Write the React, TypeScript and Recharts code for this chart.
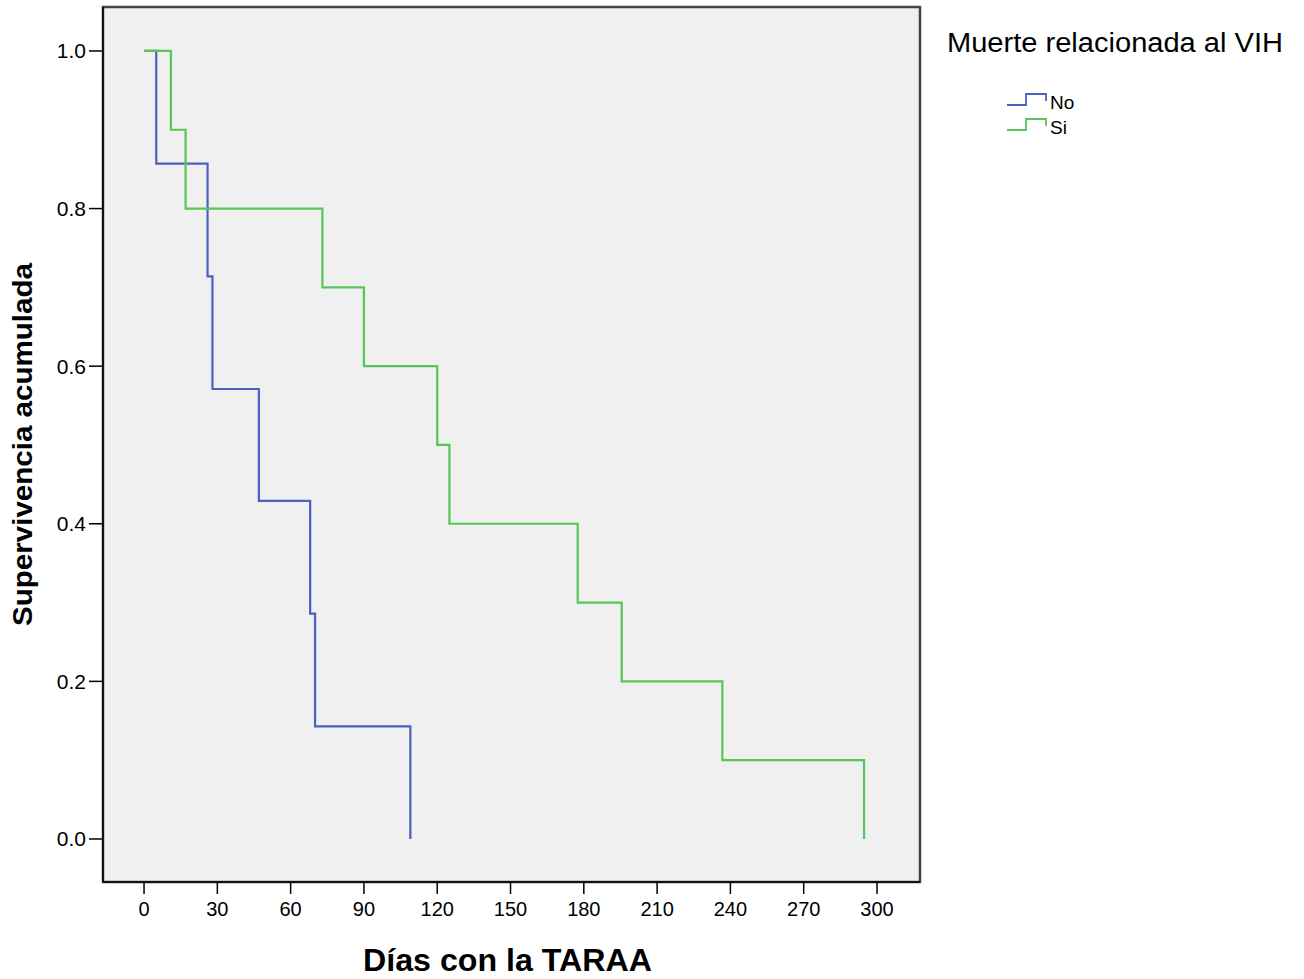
import React from 'react';
import { LineChart, Line, XAxis, YAxis, CartesianGrid, ReferenceArea, Legend, Label } from 'recharts';

// Kaplan-Meier step data
const noDays = [0, 5, 26, 28, 47, 68, 70, 109];
const noSurvival = [1.0, 0.857, 0.714, 0.571, 0.429, 0.286, 0.143, 0.0];
const siDays = [0, 11, 17, 73, 90, 120, 125, 177.5, 195.5, 236.7, 294.7];
const siSurvival = [1.0, 0.9, 0.8, 0.7, 0.6, 0.5, 0.4, 0.3, 0.2, 0.1, 0.0];

const xTicks = [0, 30, 60, 90, 120, 150, 180, 210, 240, 270, 300];
const yTicks = [0, 0.2, 0.4, 0.6, 0.8, 1.0];
const seriesNames = ['No', 'Si'];
const legendTitle = 'Muerte relacionada al VIH';
const xTitle = 'Días con la TARAA';
const yTitle = 'Supervivencia acumulada';

const BLUE = '#4b61bf';
const GREEN = '#58c558';
const FONT = '"Liberation Sans", Arial, sans-serif';

const noData = noDays.map((d, i) => ({ day: d, surv: noSurvival[i] }));
const siData = siDays.map((d, i) => ({ day: d, surv: siSurvival[i] }));

const X_DOMAIN: [number, number] = [-16.8, 317.6];
const Y_DOMAIN: [number, number] = [-0.0546, 1.0558];

const LegendContent = () => {
  const colors = [BLUE, GREEN];
  return (
    <svg width={364} height={150} style={{ display: 'block' }}>
      <text x={7} y={52} fontSize={27} fontFamily={FONT} fill="#000" textLength={336} lengthAdjust="spacingAndGlyphs">
        {legendTitle}
      </text>
      {seriesNames.map((name, i) => {
        const dy = i * 25;
        return (
          <g key={name}>
            <polyline
              points={`67,${105 + dy} 86,${105 + dy} 86,${94 + dy} 106,${94 + dy} 106,${101 + dy}`}
              fill="none"
              stroke={colors[i]}
              strokeWidth={1.8}
            />
            <text x={110} y={109 + dy} fontSize={19} fontFamily={FONT} fill="#000">
              {name}
            </text>
          </g>
        );
      })}
    </svg>
  );
};

const YTitle = (props: any) => {
  const vb = props.viewBox || {};
  const cy = vb.y + vb.height / 2;
  const x = 32;
  return (
    <text
      x={x}
      y={cy}
      transform={`rotate(-90, ${x}, ${cy})`}
      textAnchor="middle"
      fontSize={28}
      fontWeight="bold"
      fontFamily={FONT}
      fill="#000"
      textLength={363}
      lengthAdjust="spacingAndGlyphs"
    >
      {yTitle}
    </text>
  );
};

const XTitle = (props: any) => {
  const vb = props.viewBox || {};
  const cx = vb.x + vb.width / 2 - 4;
  return (
    <text
      x={cx}
      y={971}
      textAnchor="middle"
      fontSize={31}
      fontWeight="bold"
      fontFamily={FONT}
      fill="#000"
      textLength={289}
      lengthAdjust="spacingAndGlyphs"
    >
      {xTitle}
    </text>
  );
};

export default function App() {
  return (
    <div style={{ position: 'absolute', left: 0, top: 0, width: 1304, height: 979, background: '#fff' }}>
      <LineChart
        width={1304}
        height={979}
        margin={{ top: 7, right: 384, bottom: 0, left: 43 }}
        style={{ fontFamily: FONT }}
      >
        <CartesianGrid horizontal={false} vertical={false} fill="#F0F0F0" />
        <XAxis
          type="number"
          dataKey="day"
          domain={X_DOMAIN}
          allowDataOverflow
          ticks={xTicks}
          interval={0}
          height={97}
          tickSize={12}
          tickMargin={8}
          stroke="#000"
          strokeWidth={1.5}
          tick={{ fontSize: 20, fill: '#000', fontFamily: FONT }}
          tickLine={{ stroke: '#000', strokeWidth: 1.5 }}
        >
          <Label content={<XTitle />} />
        </XAxis>
        <YAxis
          type="number"
          dataKey="surv"
          domain={Y_DOMAIN}
          allowDataOverflow
          ticks={yTicks}
          interval={0}
          width={60}
          tickSize={14}
          tickMargin={3}
          stroke="#000"
          strokeWidth={1.5}
          tickFormatter={(v: number) => v.toFixed(1)}
          tick={{ fontSize: 21, fill: '#000', fontFamily: FONT }}
          tickLine={{ stroke: '#000', strokeWidth: 1.5 }}
        >
          <Label content={<YTitle />} />
        </YAxis>
        <ReferenceArea
          x1={X_DOMAIN[0]}
          x2={X_DOMAIN[1]}
          y1={Y_DOMAIN[0]}
          y2={Y_DOMAIN[1]}
          fill="none"
          stroke="#444"
          strokeWidth={2.5}
          ifOverflow="visible"
        />
        <Line
          data={noData}
          dataKey="surv"
          name={seriesNames[0]}
          type="stepAfter"
          stroke={BLUE}
          strokeWidth={2.2}
          dot={false}
          activeDot={false}
          isAnimationActive={false}
        />
        <Line
          data={siData}
          dataKey="surv"
          name={seriesNames[1]}
          type="stepAfter"
          stroke={GREEN}
          strokeWidth={2.2}
          dot={false}
          activeDot={false}
          isAnimationActive={false}
        />
        <Legend
          layout="horizontal"
          verticalAlign="middle"
          align="center"
          content={<LegendContent />}
          wrapperStyle={{ left: 940, top: 0, width: 364, height: 150 }}
        />
      </LineChart>
    </div>
  );
}
